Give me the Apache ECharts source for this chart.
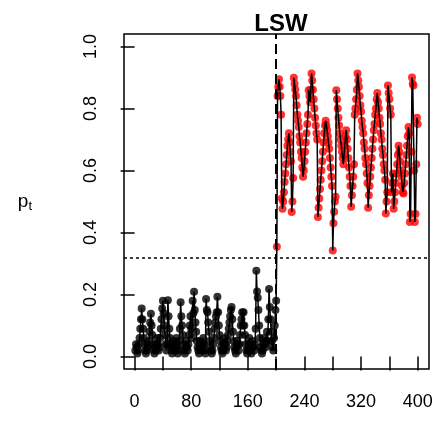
<!DOCTYPE html>
<html>
<head>
<meta charset="utf-8">
<script src="https://cdn.jsdelivr.net/npm/echarts@6/dist/echarts.min.js"></script>
<style>html,body{margin:0;padding:0;background:#fff;}#c{width:436px;height:430px;}</style>
</head>
<body>
<div id="c"></div>
<script>
// Values p_t for t = 1..200 (before change point, drawn black)
var pBefore = [
0.02,0.04,0.03,0.01,0.02,0.04,0.06,0.09,0.12,0.155,
0.12,0.09,0.06,0.04,0.02,0.01,0.02,0.04,0.03,0.05,
0.08,0.11,0.138,0.10,0.07,0.04,0.02,0.01,0.03,0.02,
0.04,0.06,0.04,0.02,0.03,0.06,0.09,0.12,0.155,0.18,
0.14,0.10,0.07,0.04,0.02,0.04,0.182,0.13,0.09,0.06,
0.04,0.02,0.01,0.03,0.05,0.03,0.02,0.04,0.06,0.03,
0.01,0.02,0.05,0.09,0.175,0.13,0.10,0.07,0.04,0.02,
0.01,0.03,0.05,0.03,0.02,0.04,0.07,0.10,0.13,0.09,
0.06,0.18,0.14,0.209,0.15,0.11,0.08,0.05,0.03,0.02,
0.01,0.03,0.05,0.04,0.02,0.04,0.06,0.04,0.02,0.01,
0.186,0.15,0.143,0.11,0.08,0.05,0.03,0.02,0.01,0.02,
0.04,0.06,0.09,0.11,0.13,0.143,0.193,0.143,0.10,0.07,
0.05,0.03,0.02,0.01,0.02,0.04,0.06,0.04,0.02,0.03,
0.05,0.07,0.09,0.11,0.13,0.15,0.16,0.12,0.08,0.05,
0.03,0.02,0.01,0.03,0.05,0.04,0.02,0.04,0.07,0.10,
0.12,0.143,0.10,0.143,0.10,0.07,0.04,0.02,0.01,0.02,
0.04,0.06,0.04,0.02,0.01,0.03,0.05,0.03,0.02,0.04,
0.09,0.277,0.21,0.19,0.15,0.10,0.06,0.03,0.02,0.01,
0.02,0.04,0.06,0.04,0.03,0.05,0.08,0.05,0.12,0.218,
0.16,0.12,0.08,0.05,0.03,0.02,0.06,0.10,0.15,0.18
];
// Values p_t for t = 201..400 (after change point, drawn red)
var pAfter = [
0.354,0.84,0.87,0.894,0.87,0.84,0.78,0.51,0.477,0.50,
0.53,0.563,0.59,0.62,0.65,0.68,0.70,0.72,0.69,0.66,
0.63,0.466,0.50,0.576,0.899,0.88,0.861,0.84,0.81,0.78,
0.76,0.74,0.71,0.69,0.66,0.64,0.61,0.58,0.60,0.63,
0.66,0.69,0.72,0.75,0.78,0.859,0.84,0.82,0.86,0.913,
0.89,0.86,0.83,0.80,0.77,0.745,0.72,0.70,0.45,0.48,
0.51,0.54,0.57,0.60,0.63,0.66,0.69,0.72,0.745,0.76,
0.745,0.73,0.71,0.69,0.67,0.64,0.61,0.58,0.55,0.342,
0.43,0.467,0.50,0.515,0.859,0.83,0.80,0.77,0.745,0.72,
0.70,0.68,0.66,0.64,0.62,0.65,0.68,0.71,0.73,0.70,
0.67,0.64,0.61,0.58,0.55,0.483,0.52,0.55,0.58,0.62,
0.78,0.80,0.83,0.86,0.913,0.89,0.87,0.84,0.81,0.79,
0.76,0.74,0.72,0.69,0.67,0.64,0.62,0.59,0.56,0.48,
0.52,0.55,0.58,0.61,0.64,0.67,0.70,0.73,0.75,0.78,
0.80,0.83,0.85,0.82,0.80,0.77,0.75,0.72,0.70,0.67,
0.65,0.62,0.60,0.57,0.461,0.50,0.53,0.874,0.85,0.83,
0.80,0.78,0.53,0.56,0.59,0.477,0.50,0.53,0.56,0.59,
0.62,0.65,0.68,0.66,0.63,0.60,0.58,0.55,0.53,0.526,
0.56,0.59,0.62,0.65,0.68,0.71,0.74,0.72,0.434,0.46,
0.66,0.90,0.88,0.874,0.60,0.434,0.46,0.62,0.77,0.75
];
var changePoint = 200;
var threshold = 0.32;
var xTicks = [0,40,80,120,160,200,240,280,320,360,400];
var xTickLabels = [0,80,160,240,320,400];
var yTicks = [0,0.2,0.4,0.6,0.8,1.0];
var yTickLabels = [0,0.2,0.4,0.6,0.8,1.0];
var titleText = 'LSW';

var before = pBefore.map(function(v,i){return [i+1, v];});
var after = pAfter.map(function(v,i){return [changePoint+i+1, v];});
var all = before.concat(after);

var chart = echarts.init(document.getElementById('c'), null, {renderer:'canvas'});
var font = 'Liberation Sans, Arial, sans-serif';
chart.setOption({
  animation:false,
  backgroundColor:'#fff',
  title:{text:titleText,left:276,textAlign:'center',top:7,
    textStyle:{fontFamily:font,fontWeight:'bold',fontSize:24,color:'#000'}},
  grid:{left:124,right:7,top:34,bottom:61,show:true,borderColor:'#000',borderWidth:1.5,backgroundColor:'transparent'},
  xAxis:{type:'value',min:-15,max:416,
    axisLine:{show:false},splitLine:{show:false},
    axisTick:{show:true,length:14,lineStyle:{color:'#000',width:1.5},customValues:xTicks},
    axisLabel:{customValues:xTickLabels,margin:24,fontFamily:font,fontSize:18,color:'#000'}},
  yAxis:{type:'value',min:-0.04,max:1.04,
    name:'{p|p}{t|t}',nameLocation:'middle',nameGap:92,nameRotate:0,
    nameTextStyle:{rich:{p:{fontFamily:font,fontSize:19,color:'#000'},t:{fontFamily:font,fontSize:13,color:'#000',padding:[10,0,0,0]}}},
    axisLine:{show:false},splitLine:{show:false},
    axisTick:{show:true,length:14,lineStyle:{color:'#000',width:1.5},customValues:yTicks},
    axisLabel:{customValues:yTickLabels,rotate:90,margin:24,fontFamily:font,fontSize:18,color:'#000',
      formatter:function(v){return v.toFixed(1);}}},
  series:[
    {type:'line',data:all,showSymbol:false,lineStyle:{color:'#000',width:1.5},silent:true,
     markLine:{silent:true,symbol:'none',label:{show:false},
       data:[{xAxis:changePoint,lineStyle:{color:'#000',width:2,type:[10,5]}},
             {yAxis:threshold,lineStyle:{color:'#000',width:1.5,type:[3,3]}}]}},
    {type:'scatter',data:before,symbol:'circle',symbolSize:8,itemStyle:{color:'#000'},silent:true},
    {type:'scatter',data:after,symbol:'circle',symbolSize:8,itemStyle:{color:'#ff0000'},silent:true}
  ]
});
</script>
</body>
</html>
